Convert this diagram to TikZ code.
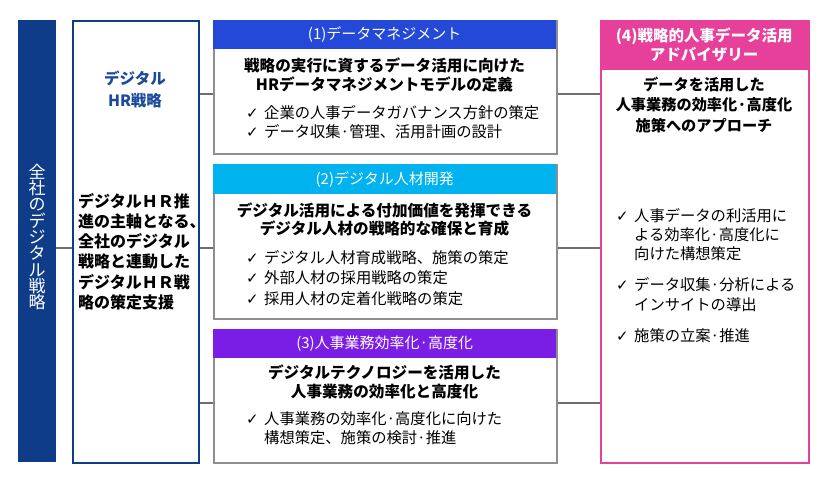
\documentclass[tikz,border=0pt]{standalone}
\usepackage{fontspec}
\setmainfont{Noto Sans CJK JP}
\newfontfamily\symfont{DejaVu Sans}
\newcommand{\chk}{\makebox[18pt][l]{\symfont\fontsize{15}{15}\selectfont ✓}}
\newcommand{\ind}{\hspace*{18pt}}
\definecolor{navy}{HTML}{0E3C88}
\definecolor{hrblue}{HTML}{1B4A9C}
\definecolor{hdrone}{HTML}{2448D8}
\definecolor{hdrtwo}{HTML}{00B2EE}
\definecolor{hdrthree}{HTML}{7A1EE6}
\definecolor{pinkish}{HTML}{E6409A}
\definecolor{boxgray}{HTML}{8E8E8E}
\definecolor{linegray}{HTML}{6E6E6E}
\begin{document}
\begin{tikzpicture}[
        x=1pt, y=-1pt, % пиксели, ось y вниз
        panel/.style = {draw=boxgray, line width=2pt, fill=white, anchor=north west, inner sep=0pt},
        hdr/.style = {anchor=north west, inner sep=0pt, text=white, font=\fontsize{15}{16}\selectfont},
        ttl/.style = {align=center, font=\bfseries\fontsize{15.6}{18.5}\selectfont},
        items/.style = {anchor=north west, align=left, inner sep=0pt, font=\fontsize{15.3}{19.5}\selectfont},
        conn/.style = {draw=linegray, line width=2.5pt},
    ]

    \useasboundingbox (0,0) rectangle (820,480);

    % левая колонка
    \node[fill=navy, anchor=north west, minimum width=38pt, minimum height=442pt, inner sep=0pt] (bar) at (18,20) {};
    \node[text=white, align=center, font=\fontsize{17}{16.3}\selectfont] (bartxt) at (37,237)
        {全\\社\\の\\デ\\ジ\\タ\\ル\\戦\\略};
    \node[draw=navy, line width=2pt, anchor=north west, minimum width=126pt, minimum height=442pt, inner sep=0pt] (hr) at (72,20) {};
    \node[text=hrblue, align=center, font=\bfseries\fontsize{15.5}{22}\selectfont] (hrttl) at (135,89) {デジタル\\HR戦略};
    \node[anchor=north west, align=left, inner sep=0pt, font=\bfseries\fontsize{16}{20.2}\selectfont] (hrtxt) at (78,193)
        {デジタルＨＲ推\\進の主軸となる、\\全社のデジタル\\戦略と連動した\\デジタルＨＲ戦\\略の策定支援};

    % (1)
    \node[panel, minimum width=343pt, minimum height=133pt] (b1) at (213,20) {};
    \node[hdr, fill=hdrone, minimum width=343pt, minimum height=29pt] (h1) at (213,20) {(1)データマネジメント};
    \node[ttl] (t1) at (384.5,75) {戦略の実行に資するデータ活用に向けた\\HRデータマネジメントモデルの定義};
    \node[items] (l1) at (246,105)
        {\chk 企業の人事データガバナンス方針の策定\\\chk データ収集·管理、活用計画の設計};

    % (2)
    \node[panel, minimum width=343pt, minimum height=154pt] (b2) at (213,164) {};
    \node[hdr, fill=hdrtwo, minimum width=343pt, minimum height=30pt] (h2) at (213,164) {(2)デジタル人材開発};
    \node[ttl] (t2) at (384.5,219.5) {デジタル活用による付加価値を発揮できる\\デジタル人材の戦略的な確保と育成};
    \node[items, font=\fontsize{15.3}{20.5}\selectfont] (l2) at (246,250)
        {\chk デジタル人材育成戦略、施策の策定\\\chk 外部人材の採用戦略の策定\\\chk 採用人材の定着化戦略の策定};

    % (3)
    \node[panel, minimum width=343pt, minimum height=133pt] (b3) at (213,329) {};
    \node[hdr, fill=hdrthree, minimum width=343pt, minimum height=29pt] (h3) at (213,329) {(3)人事業務効率化·高度化};
    \node[ttl] (t3) at (384.5,382) {デジタルテクノロジーを活用した\\人事業務の効率化と高度化};
    \node[items] (l3) at (246,411)
        {\chk 人事業務の効率化·高度化に向けた\\\ind 構想策定、施策の検討·推進};

    % (4)
    \node[panel, draw=pinkish, minimum width=208pt, minimum height=442pt] (b4) at (600,20) {};
    \node[hdr, fill=pinkish, minimum width=208pt, minimum height=50pt, align=center,
        font=\bfseries\fontsize{15.5}{19}\selectfont] (h4) at (600,20) {(4)戦略的人事データ活用\\アドバイザリー};
    \node[ttl, font=\bfseries\fontsize{15.2}{20.5}\selectfont] (t4) at (704,105) {データを活用した\\人事業務の効率化·高度化\\施策へのアプローチ};
    \node[items, font=\fontsize{15.3}{19.2}\selectfont] (l4) at (616,208)
        {\chk 人事データの利活用に\\\ind よる効率化·高度化に\\\ind 向けた構想策定\\[12pt]
         \chk データ収集·分析による\\\ind インサイトの導出\\[12pt]
         \chk 施策の立案·推進};

    % соединительные линии
    \coordinate (y1) at (0,94);
    \coordinate (y2) at (0,248);
    \coordinate (y3) at (0,403);
    \draw[conn] (bar.east |- y2) -- (hr.west |- y2);
    \foreach \k/\b in {y1/b1, y2/b2, y3/b3} {
        \draw[conn] (hr.east |- \k) -- (\b.west |- \k);
        \draw[conn] (\b.east |- \k) -- (b4.west |- \k);
    }

\end{tikzpicture}
\end{document}
